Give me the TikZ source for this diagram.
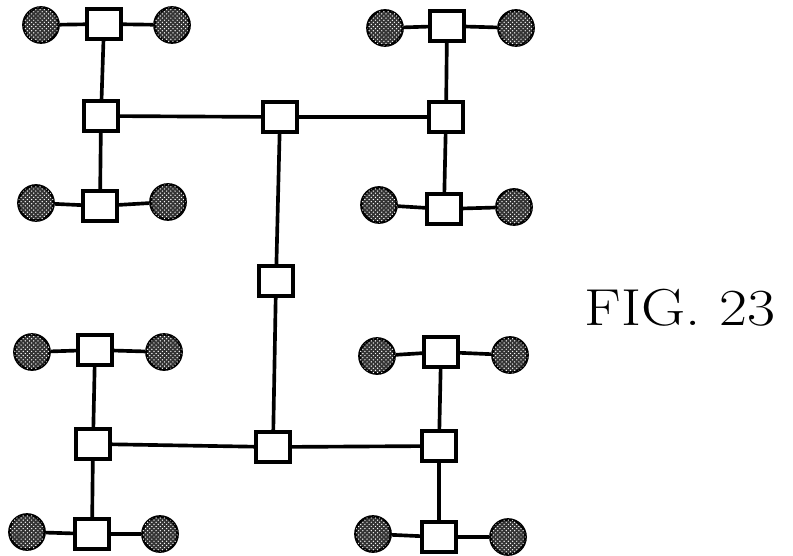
\documentclass[tikz,border=0pt]{standalone}
\usepackage{tikz}
\usetikzlibrary{patterns}

\begin{document}
\begin{tikzpicture}[x=0.025cm,y=-0.025cm,
  sq/.style={draw=black,line width=2.7pt,fill=white,rectangle,
    minimum width=0.84cm,minimum height=0.76cm,inner sep=0pt},
  dot/.style={draw=black,line width=1.8pt,circle,fill=black!80,minimum size=0.88cm,inner sep=0pt,
    postaction={pattern=crosshatch dots,pattern color=white}},
  link/.style={line width=2.6pt,draw=black}]
\useasboundingbox (0,0) rectangle (793,556);

% top left cluster
\node[sq] (tlA) at (104,24) {};
\node[sq] (tlB) at (101,116) {};
\node[sq] (tlC) at (100,206) {};
\node[dot] (tlA1) at (41,25) {};
\node[dot] (tlA2) at (172,25) {};
\node[dot] (tlC1) at (36,203) {};
\node[dot] (tlC2) at (168,202) {};

% top right cluster
\node[sq] (trA) at (447,26) {};
\node[sq] (trB) at (446,117) {};
\node[sq] (trC) at (444,209) {};
\node[dot] (trA1) at (385,28) {};
\node[dot] (trA2) at (516,28) {};
\node[dot] (trC1) at (379,205) {};
\node[dot] (trC2) at (514,207) {};

% bottom left cluster
\node[sq] (blA) at (95,350) {};
\node[sq] (blB) at (93,444) {};
\node[sq] (blC) at (92,534) {};
\node[dot] (blA1) at (32,352) {};
\node[dot] (blA2) at (164,352) {};
\node[dot] (blC1) at (27,532) {};
\node[dot] (blC2) at (160,534) {};

% bottom right cluster
\node[sq] (brA) at (441,352) {};
\node[sq] (brB) at (439,446) {};
\node[sq] (brC) at (439,537) {};
\node[dot] (brA1) at (377,356) {};
\node[dot] (brA2) at (510,355) {};
\node[dot] (brC1) at (373,534) {};
\node[dot] (brC2) at (508,537) {};

% spine
\node[sq] (top) at (280,117) {};
\node[sq] (mid) at (276,281) {};
\node[sq] (bot) at (273,447) {};

\node[anchor=base,font=\fontsize{37}{40}\selectfont] (fig) at (680,325)
  {\scalebox{1.17}[1]{FIG. 23}};

% connectors
\draw[link] (tlA1) -- (tlA) -- (tlA2);
\draw[link] (tlC1) -- (tlC) -- (tlC2);
\draw[link] (tlA) -- (tlB) -- (tlC);
\draw[link] (trA1) -- (trA) -- (trA2);
\draw[link] (trC1) -- (trC) -- (trC2);
\draw[link] (trA) -- (trB) -- (trC);
\draw[link] (blA1) -- (blA) -- (blA2);
\draw[link] (blC1) -- (blC) -- (blC2);
\draw[link] (blA) -- (blB) -- (blC);
\draw[link] (brA1) -- (brA) -- (brA2);
\draw[link] (brC1) -- (brC) -- (brC2);
\draw[link] (brA) -- (brB) -- (brC);
\draw[link] (tlB) -- (top) -- (trB);
\draw[link] (blB) -- (bot) -- (brB);
\draw[link] (top) -- (mid) -- (bot);
\end{tikzpicture}
\end{document}
